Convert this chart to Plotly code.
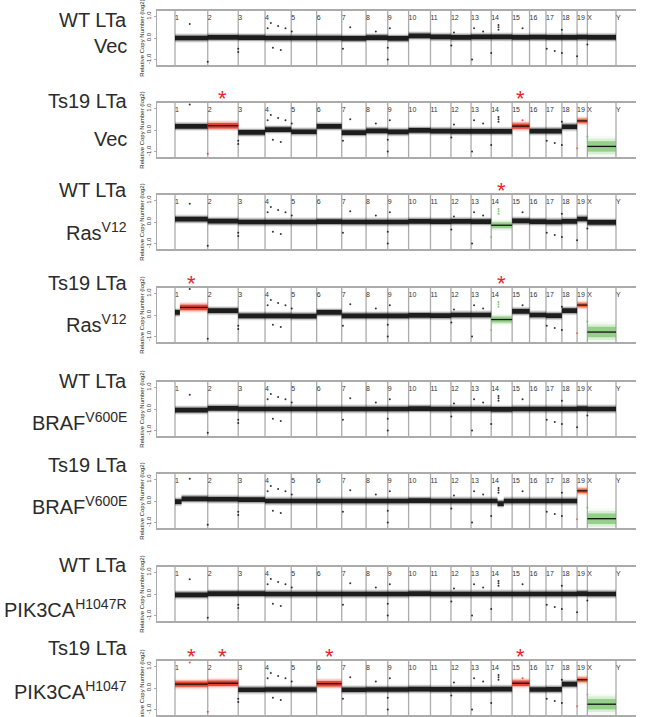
import plotly.graph_objects as go

# ---------------------------------------------------------------- genome
CHROMS = ['1', '2', '3', '4', '5', '6', '7', '8', '9', '10', '11', '12',
          '13', '14', '15', '16', '17', '18', '19', 'X', 'Y']
CHROM_LEN_MB = [195.5, 182.1, 160.0, 156.5, 151.8, 149.7, 145.4, 129.4,
                124.6, 130.7, 122.1, 120.1, 120.4, 124.9, 104.0, 98.2,
                95.0, 90.7, 61.4, 171.0, 91.7]

# ---------------------------------------------------------------- samples
SAMPLE_NAMES = ['WT LTa', 'Ts19 LTa', 'WT LTa', 'Ts19 LTa',
                'WT LTa', 'Ts19 LTa', 'WT LTa', 'Ts19 LTa']
CONSTRUCTS = ['Vec', 'Vec', 'Ras<sup>V12</sup>', 'Ras<sup>V12</sup>',
              'BRAF<sup>V600E</sup>', 'BRAF<sup>V600E</sup>',
              'PIK3CA<sup>H1047R</sup>', 'PIK3CA<sup>H1047</sup>']

# segment level per chromosome (log2 ratio), chr1..chrX
WT_VEC_LEVEL = [0.0, 0.03, 0.02, 0.0, 0.0, 0.0, -0.02, 0.02, -0.02, 0.1,
                0.05, 0.03, 0.05, 0.05, 0.03, 0.04, 0.03, 0.03, 0.04, 0.03]
TS19_VEC_LEVEL = [0.17, 0.2, -0.11, 0.02, -0.08, 0.17, -0.12, -0.04, -0.09, -0.02,
                  -0.05, -0.06, -0.06, -0.06, 0.18, -0.05, -0.05, 0.15, 0.42, -0.76]
WT_RAS_LEVEL = [0.13, 0.04, 0.0, 0.0, 0.0, 0.02, 0.0, 0.0, 0.0, 0.03,
                0.02, 0.03, 0.02, -0.15, 0.05, 0.02, 0.0, 0.03, 0.14, -0.02]
TS19_RAS_LEVEL = [0.35, 0.2, -0.04, -0.04, -0.05, 0.12, -0.04, -0.04, -0.04, -0.02,
                  -0.03, 0.0, 0.0, -0.21, 0.17, 0.0, -0.03, 0.2, 0.46, -0.79]
WT_BRAF_LEVEL = [-0.05, 0.03, 0.0, 0.0, 0.0, 0.0, 0.0, 0.0, 0.0, 0.02,
                 0.0, 0.0, 0.0, -0.02, 0.0, 0.0, 0.0, 0.0, 0.02, 0.0]
TS19_BRAF_LEVEL = [0.1, 0.08, 0.06, 0.0, 0.0, 0.0, 0.0, 0.0, 0.0, 0.02,
                   0.0, 0.0, 0.0, -0.02, 0.0, 0.0, 0.0, 0.0, 0.47, -0.82]
WT_PIK3CA_LEVEL = [-0.04, 0.02, 0.02, 0.0, 0.0, 0.0, 0.0, 0.0, 0.0, 0.02,
                   0.0, 0.0, 0.0, 0.0, 0.0, 0.0, 0.0, 0.0, 0.02, 0.0]
TS19_PIK3CA_LEVEL = [0.18, 0.22, -0.08, -0.07, -0.07, 0.2, -0.08, -0.07, -0.07, -0.05,
                     -0.06, -0.06, -0.06, -0.05, 0.22, -0.07, -0.06, 0.18, 0.38, -0.75]

# copy-number call per chromosome: k neutral, r gain, o chr19 trisomy, g loss
WT_VEC_CALL = 'kkkkkkkkkkkkkkkkkkkk'
TS19_VEC_CALL = 'krkkkkkkkkkkkkrkkkog'
WT_RAS_CALL = 'kkkkkkkkkkkkkgkkkkkk'
TS19_RAS_CALL = 'rkkkkkkkkkkkkgkkkkog'
WT_BRAF_CALL = 'kkkkkkkkkkkkkkkkkkkk'
TS19_BRAF_CALL = 'kkkkkkkkkkkkkkkkkkog'
WT_PIK3CA_CALL = 'kkkkkkkkkkkkkkkkkkkk'
TS19_PIK3CA_CALL = 'rrkkkrkkkkkkkkrkkkog'

# sub-chromosomal segments (chrom, start fraction, end fraction, level, call)
TS19_RAS_SPLITS = [('1', 0.0, 0.15, 0.12, 'k'), ('1', 0.15, 1.0, 0.35, 'r')]
TS19_BRAF_SPLITS = [('1', 0.0, 0.2, -0.03, 'k'), ('1', 0.2, 1.0, 0.1, 'k'),
                    ('14', 0.0, 0.3, 0.0, 'k'), ('14', 0.3, 0.6, -0.12, 'k'),
                    ('14', 0.6, 1.0, 0.0, 'k')]

# isolated probes recurring in every sample (chrom, fraction, log2 ratio)
RECURRING_PROBES = [
    ('2', 0.0, -1.1), ('3', 0.0, -0.5), ('3', 0.0, -0.65),
    ('4', 0.1, 0.45), ('4', 0.22, 0.7), ('4', 0.5, 0.55), ('4', 0.3, -0.45),
    ('4', 0.6, -0.55), ('4', 0.78, 0.45), ('5', 0.02, 0.3),
    ('7', 0.05, -0.5), ('7', 0.35, 0.5), ('8', 0.45, 0.3),
    ('9', 0.0, -0.45), ('9', 0.0, -1.0), ('9', 0.1, 0.45),
    ('12', 0.02, -0.35), ('12', 0.15, 0.25), ('13', 0.05, -1.0),
    ('13', 0.15, 0.45), ('13', 0.6, 0.3), ('14', 0.0, -0.7),
    ('14', 0.35, 0.6), ('14', 0.35, 0.5), ('14', 0.35, 0.38),
    ('15', 0.6, 0.45), ('17', 0.05, -0.5), ('17', 0.55, -0.6),
    ('18', 0.0, -0.7), ('18', 0.0, 0.38), ('19', 0.0, -0.85), ('X', 0.0, -0.3),
]
# the chr1 probe near 90 Mb, per sample
CHR1_PROBE = [0.65, 1.18, 0.84, 1.2, 0.66, 1.03, 0.68, 1.18]

# chromosomes flagged with an asterisk, per sample
FLAGGED = [[], ['2', '15'], ['14'], ['1', '14'], [], [], [], ['1', '2', '6', '15']]

LEVELS = [WT_VEC_LEVEL, TS19_VEC_LEVEL, WT_RAS_LEVEL, TS19_RAS_LEVEL,
          WT_BRAF_LEVEL, TS19_BRAF_LEVEL, WT_PIK3CA_LEVEL, TS19_PIK3CA_LEVEL]
CALLS = [WT_VEC_CALL, TS19_VEC_CALL, WT_RAS_CALL, TS19_RAS_CALL,
         WT_BRAF_CALL, TS19_BRAF_CALL, WT_PIK3CA_CALL, TS19_PIK3CA_CALL]
SPLITS = [[], [], [], TS19_RAS_SPLITS, [], TS19_BRAF_SPLITS, [], []]

# probe scatter half-width (log2) by call
HALF_WIDTH = {'k': 0.12, 'r': 0.14, 'o': 0.12, 'g': 0.15}
X_LOSS_HALF_WIDTH = 0.27

# ---------------------------------------------------------------- styling
CALL_RGB = {'k': (17, 17, 17), 'r': (232, 56, 38), 'o': (240, 98, 58), 'g': (112, 192, 98)}
GRID_GRAY = '#ababab'
FONT = 'Liberation Sans, Arial, sans-serif'
W, H = 646, 717
PLOT_LEFT, PLOT_RIGHT = 157, 636
CHR1_LEFT, Y_LINE = 175, 616
PANEL_TOP = [11, 103, 195, 288, 382, 474, 567, 661]
PANEL_H = 54
LABEL_Y = [(20, 46), (101, 139), (190, 232), (283, 323),
           (381, 421), (465, 506), (565, 608), (648, 690)]
Y_RANGE = [-1.25, 1.25]

# cumulative chromosome starts
starts = []
acc = 0.0
for L in CHROM_LEN_MB:
    starts.append(acc)
    acc += L
start_of = dict(zip(CHROMS, starts))
len_of = dict(zip(CHROMS, CHROM_LEN_MB))
genome_to_x = start_of['Y']
mb_per_px = genome_to_x / (Y_LINE - CHR1_LEFT)
x_range = [-(CHR1_LEFT - PLOT_LEFT) * mb_per_px,
           genome_to_x + (PLOT_RIGHT - Y_LINE) * mb_per_px]


def rgba(call, a):
    r, g, b = CALL_RGB[call]
    return f'rgba({r},{g},{b},{a})'


fig = go.Figure()
annotations = []

for p in range(8):
    xa = 'x' if p == 0 else f'x{p + 1}'
    ya = 'y' if p == 0 else f'y{p + 1}'

    # segments of this sample
    segs = []
    split_chroms = {s[0] for s in SPLITS[p]}
    for i, c in enumerate(CHROMS[:-1]):
        if c in split_chroms:
            continue
        segs.append((c, 0.0, 1.0, LEVELS[p][i], CALLS[p][i]))
    segs += SPLITS[p]

    # chromosome boundaries
    bx, by = [], []
    for s in starts:
        bx += [s, s, None]
        by += [Y_RANGE[0], Y_RANGE[1], None]
    fig.add_trace(go.Scatter(x=bx, y=by, mode='lines', xaxis=xa, yaxis=ya,
                             line=dict(color=GRID_GRAY, width=1.3),
                             hoverinfo='skip', showlegend=False))

    # probe bands: layered density from sparse edge to dense core
    for call in ['k', 'r', 'o', 'g']:
        sel = [s for s in segs if s[4] == call]
        if not sel:
            continue
        for scale, alpha in [(1.8, 0.1), (1.35, 0.3), (0.9, 0.92)]:
            xs, ys = [], []
            for c, f0, f1, lv, _ in sel:
                hw = X_LOSS_HALF_WIDTH if (c == 'X' and call == 'g') else HALF_WIDTH[call]
                hw *= scale
                x0 = start_of[c] + f0 * len_of[c]
                x1 = start_of[c] + f1 * len_of[c]
                xs += [x0, x1, x1, x0, x0, None]
                ys += [lv + hw, lv + hw, lv - hw, lv - hw, lv + hw, None]
            a = alpha * (0.7 if call == 'g' else 1.0)
            fig.add_trace(go.Scatter(x=xs, y=ys, mode='lines', fill='toself',
                                     fillcolor=rgba(call, a), line=dict(width=0),
                                     xaxis=xa, yaxis=ya, hoverinfo='skip',
                                     showlegend=False))

    # segment means for altered chromosomes
    mx, my = [], []
    for c, f0, f1, lv, call in segs:
        if call == 'k':
            continue
        mx += [start_of[c] + f0 * len_of[c], start_of[c] + f1 * len_of[c], None]
        my += [lv, lv, None]
    if mx:
        fig.add_trace(go.Scatter(x=mx, y=my, mode='lines', xaxis=xa, yaxis=ya,
                                 line=dict(color='#111111', width=1.3),
                                 hoverinfo='skip', showlegend=False))

    # isolated probes
    call_of = {}
    for c, f0, f1, lv, call in segs:
        call_of.setdefault(c, call)
    probes = [('1', 0.45, CHR1_PROBE[p])] + RECURRING_PROBES
    ox = [start_of[c] + f * len_of[c] for c, f, v in probes]
    oy = [v for c, f, v in probes]
    oc = [rgba(call_of[c], 0.85) for c, f, v in probes]
    fig.add_trace(go.Scatter(x=ox, y=oy, mode='markers', xaxis=xa, yaxis=ya,
                             marker=dict(size=2, color=oc),
                             hoverinfo='skip', showlegend=False))

    # chromosome names
    fig.add_trace(go.Scatter(x=starts, y=[0.9] * len(starts), text=CHROMS,
                             mode='text', textposition='middle right',
                             textfont=dict(size=7, color='#333333', family=FONT),
                             xaxis=xa, yaxis=ya, cliponaxis=False,
                             hoverinfo='skip', showlegend=False))

    # flagged chromosomes (compact box so it stays above the frame)
    for c in FLAGGED[p]:
        annotations.append(dict(x=start_of[c] + len_of[c] / 2, y=1, xref=xa,
                                yref=f'{ya} domain', yanchor='bottom', yshift=3,
                                height=13, valign='top', borderpad=0,
                                text='*', showarrow=False,
                                font=dict(size=22, color='#e8262b', family=FONT)))

    # sample labels
    for txt, ypx in zip([SAMPLE_NAMES[p], CONSTRUCTS[p]], LABEL_Y[p]):
        annotations.append(dict(x=129 / W, y=1 - ypx / H, xref='paper', yref='paper',
                                xanchor='right', yanchor='middle', text=txt,
                                showarrow=False,
                                font=dict(size=20, color='#2b2b2b', family=FONT)))

    top = PANEL_TOP[p]
    xkey = 'xaxis' if p == 0 else f'xaxis{p + 1}'
    ykey = 'yaxis' if p == 0 else f'yaxis{p + 1}'
    fig.layout[xkey] = dict(domain=[PLOT_LEFT / W, PLOT_RIGHT / W], anchor=ya,
                            range=x_range, showline=True, mirror=True,
                            linecolor=GRID_GRAY, linewidth=1.5, showgrid=False,
                            zeroline=False, showticklabels=False, ticks='')
    fig.layout[ykey] = dict(domain=[1 - (top + PANEL_H) / H, 1 - top / H], anchor=xa,
                            range=Y_RANGE, showline=True, linecolor=GRID_GRAY,
                            linewidth=1.3, showgrid=False, zeroline=False,
                            tickvals=[-1, 0, 1], ticktext=['-1.0', '0.0', '1.0'],
                            tickangle=-90, ticks='outside', ticklen=2,
                            tickcolor=GRID_GRAY,
                            tickfont=dict(size=6, color='#333333', family=FONT),
                            title=dict(text='Relative Copy Number (log2)',
                                       font=dict(size=6, color='#222222', family=FONT),
                                       standoff=1))

fig.update_layout(width=W, height=H, margin=dict(l=0, r=0, t=0, b=0),
                  paper_bgcolor='white', plot_bgcolor='white',
                  annotations=annotations, showlegend=False)

fig.write_html('out.html')
